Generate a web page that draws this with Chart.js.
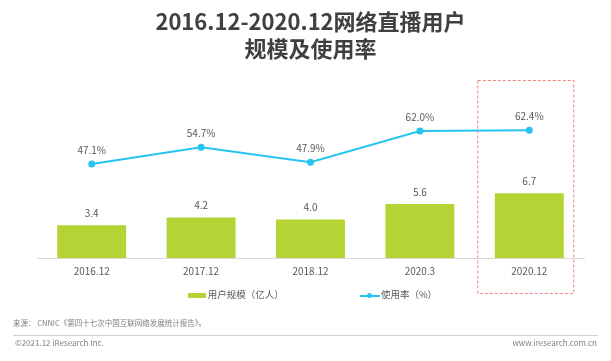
<!DOCTYPE html>
<html>
<head>
<meta charset="utf-8">
<script src="https://cdn.jsdelivr.net/npm/chart.js@4"></script>
<style>
  body { margin: 0; background: #fff; font-family: "Noto Sans CJK SC", sans-serif; }
  #wrap { position: relative; width: 611px; height: 361px; }
  #legend { position: absolute; top: 286px; left: 7px; width: 611px; text-align: center; font-size: 9.5px; color: #595959; white-space: nowrap; }
  #legend span.item { display: inline-block; vertical-align: middle; }
  #legend span.gap { display: inline-block; width: 76px; }
  .swatch { display: inline-block; width: 18px; height: 5px; vertical-align: middle; margin-right: 2px; }
  .lineKey { display: inline-block; position: relative; width: 20px; height: 7px; vertical-align: middle; margin-right: 1px; }
  .lineKey i { position: absolute; left: 0; right: 0; top: 3px; height: 1.5px; }
  .lineKey b { position: absolute; left: 7px; top: 1px; width: 5px; height: 5px; border-radius: 50%; }
  .foot { position: absolute; font-size: 7.5px; color: #808080; white-space: nowrap; }
  #rule { position: absolute; left: 13px; top: 335px; width: 585px; height: 1px; background: #d0d0d0; }
</style>
</head>
<body>
<div id="wrap">
  <canvas id="chart" width="611" height="361"></canvas>
  <div id="legend"></div>
  <div class="foot" style="left:13px;top:317px;">来源： CNNIC《第四十七次中国互联网络发展统计报告》。</div>
  <div id="rule"></div>
  <div class="foot" style="left:15px;top:337px;font-size:8px;">©2021.12 iResearch Inc.</div>
  <div class="foot" style="right:14px;top:337px;font-size:8px;">www.iresearch.com.cn</div>
</div>
<script>
const categories = ['2016.12', '2017.12', '2018.12', '2020.3', '2020.12'];
const userScale = [3.4, 4.2, 4.0, 5.6, 6.7];
const usageRate = [47.1, 54.7, 47.9, 62.0, 62.4];

const barColor = 'rgb(180,211,52)';
const lineColor = 'rgb(38,196,240)';
const textColor = '#595959';
const font = '"Noto Sans CJK SC", sans-serif';

// value labels above bars and points
const valueLabels = {
    id: 'valueLabels',
    afterDatasetsDraw(chart) {
        const ctx = chart.ctx;
        ctx.save();
        ctx.font = '10px ' + font;
        ctx.fillStyle = textColor;
        ctx.textAlign = 'center';
        ctx.textBaseline = 'middle';
        chart.data.datasets.forEach(function(ds, i) {
            const meta = chart.getDatasetMeta(i);
            meta.data.forEach(function(el, j) {
                if (ds.type === 'line') {
                    ctx.fillText(ds.data[j].toFixed(1) + '%', el.x, el.y - 14);
                } else {
                    ctx.fillText(ds.data[j].toFixed(1), el.x, el.y - 12);
                }
            });
        });
        ctx.restore();
    }
};

// dashed highlight round the last category
const highlight = {
    id: 'highlight',
    afterDraw(chart) {
        const x = chart.scales.x;
        const cx = x.getPixelForValue(categories.length - 1);
        const ctx = chart.ctx;
        ctx.save();
        ctx.strokeStyle = 'rgb(240,130,130)';
        ctx.lineWidth = 1;
        ctx.setLineDash([3, 2]);
        ctx.strokeRect(cx - 51.5, chart.chartArea.top + 0.5, 96, 213);
        ctx.restore();
    }
};

const ctx = document.getElementById('chart').getContext('2d');
const chart = new Chart(ctx, {
    data: {
        labels: categories,
        datasets: [{
            type: 'line',
            label: '使用率（%）',
            data: usageRate,
            yAxisID: 'y2',
            borderColor: lineColor,
            backgroundColor: lineColor,
            borderWidth: 2,
            pointRadius: 2.5,
            pointHoverRadius: 2.5,
            tension: 0
        }, {
            type: 'bar',
            label: '用户规模（亿人）',
            data: userScale,
            yAxisID: 'y',
            backgroundColor: barColor,
            barPercentage: 0.63,
            categoryPercentage: 1
        }]
    },
    options: {
        responsive: false,
        animation: false,
        layout: { padding: { left: 37, right: 27, bottom: 77 } },
        plugins: {
            legend: { display: false },
            tooltip: { enabled: false },
            title: {
                display: true,
                text: ['2016.12-2020.12网络直播用户', '规模及使用率'],
                color: '#404040',
                font: { family: font, size: 22, weight: 'bold', lineHeight: 1.227 },
                padding: { top: 8.5, bottom: 17.5 }
            }
        },
        scales: {
            x: {
                grid: { display: false, drawTicks: false },
                border: { display: true, color: '#d9d9d9' },
                ticks: { color: textColor, padding: 7, font: { family: font, size: 10 } }
            },
            y: { display: false, min: 0, max: 18.45 },
            y2: { display: false, min: 4.43, max: 85.2 }
        }
    },
    plugins: [valueLabels, highlight]
});

// legend
const legend = document.getElementById('legend');
legend.innerHTML =
    '<span class="item"><span class="swatch" style="background:' + barColor + '"></span>' + chart.data.datasets[1].label + '</span>' +
    '<span class="gap"></span>' +
    '<span class="item"><span class="lineKey"><i style="background:' + lineColor + '"></i><b style="background:' + lineColor + '"></b></span>' + chart.data.datasets[0].label + '</span>';
</script>
</body>
</html>
